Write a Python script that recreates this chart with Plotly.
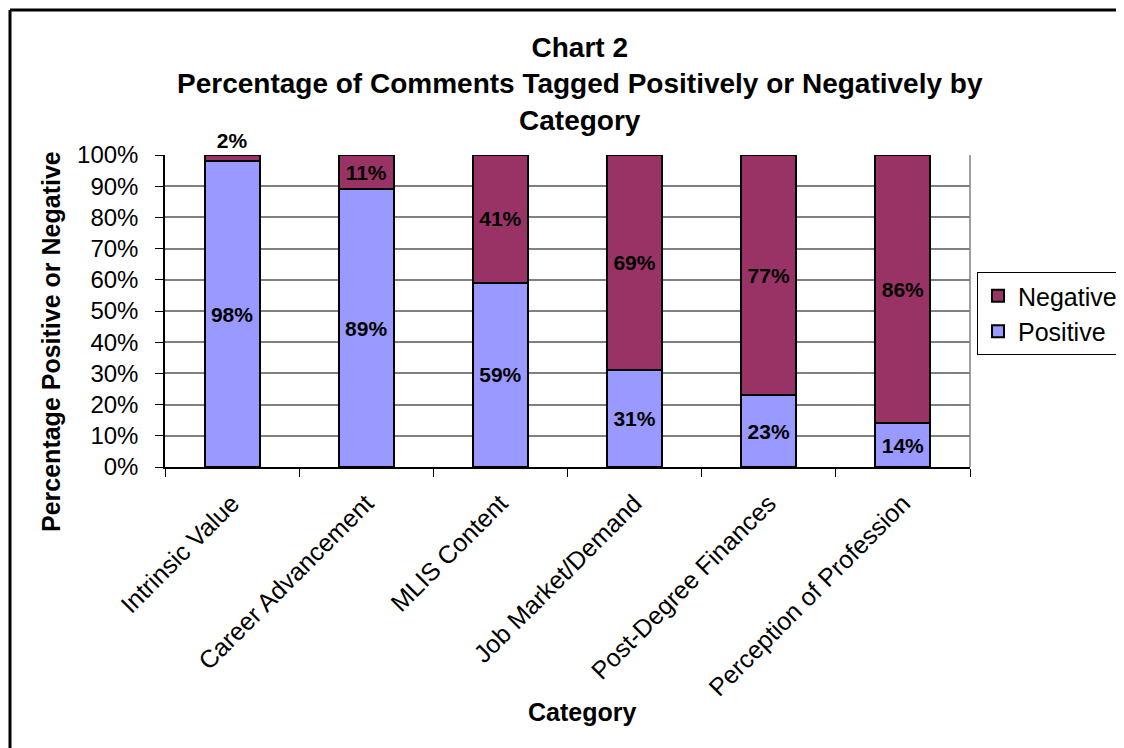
import plotly.graph_objects as go

categories = ["Intrinsic Value", "Career Advancement", "MLIS Content",
              "Job Market/Demand", "Post-Degree Finances", "Perception of Profession"]
positive = [98, 89, 59, 31, 23, 14]
negative = [2, 11, 41, 69, 77, 86]
y_ticks = [0, 10, 20, 30, 40, 50, 60, 70, 80, 90, 100]

FONT = "Liberation Sans, Arial, sans-serif"
OFF = 8  # default page body margin
W, H = 1124 - OFF, 748 - OFF
# plot area in page pixels
PL, PR, PT, PB = 165, 970, 155, 467
L, R, T, B = PL - OFF, PR - OFF, PT - OFF, PB - OFF


def px2x(px):
    return (px - PL) / (PR - PL)


def px2y(py):
    return (PB - py) / (PB - PT)


fig = go.Figure()
fig.add_trace(go.Bar(
    name="Positive", x=categories, y=positive,
    marker=dict(color="#9999FF", line=dict(color="black", width=2)),
    text=[f"{v}%" for v in positive], textposition="inside",
    insidetextanchor="middle", constraintext="none",
    textfont=dict(family=FONT, size=21, color="black", weight="bold"),
    width=0.41, cliponaxis=False,
))
fig.add_trace(go.Bar(
    name="Negative", x=categories, y=negative,
    marker=dict(color="#993366", line=dict(color="black", width=2)),
    text=[f"{v}%" for v in negative],
    textposition=["outside"] + ["inside"] * 5,
    insidetextanchor="middle", constraintext="none",
    textfont=dict(family=FONT, size=21, color="black", weight="bold"),
    width=0.41, cliponaxis=False,
))

fig.update_layout(
    width=W, height=H,
    margin=dict(l=L, r=W - R, t=T, b=H - B, pad=0, autoexpand=False),
    barmode="stack",
    paper_bgcolor="white", plot_bgcolor="white",
    font=dict(family=FONT, color="black"),
    showlegend=True,
    legend=dict(
        x=px2x(977), y=px2y(272), xanchor="left", yanchor="top",
        bordercolor="black", borderwidth=1,
        font=dict(family=FONT, size=25, color="black"),
        itemwidth=30, tracegroupgap=0,
    ),
    xaxis=dict(
        showgrid=False, showline=True, linecolor="black", linewidth=1.5,
        ticks="outside", ticklen=8, tickcolor="black", tickson="boundaries",
        tickangle=-45, tickfont=dict(family=FONT, size=25, color="black"),
        ticklabelstandoff=10,
    ),
    yaxis=dict(
        range=[0, 100], tickvals=y_ticks, ticktext=[f"{v}%" for v in y_ticks],
        showgrid=True, gridcolor="#808080", gridwidth=1.5,
        showline=True, linecolor="black", linewidth=1.5,
        ticks="outside", ticklen=8, tickcolor="black",
        tickfont=dict(family=FONT, size=24, color="black"),
        ticklabelstandoff=12,
        zeroline=False,
    ),
    shapes=[
        dict(type="line", xref="paper", yref="paper", x0=1, x1=1, y0=0, y1=1,
             line=dict(color="#808080", width=1.5), layer="below"),
        dict(type="line", xref="paper", yref="paper", x0=px2x(10), x1=px2x(1130),
             y0=px2y(10), y1=px2y(10), line=dict(color="black", width=3)),
        dict(type="line", xref="paper", yref="paper", x0=px2x(10), x1=px2x(10),
             y0=px2y(10), y1=px2y(760), line=dict(color="black", width=3)),
    ],
    annotations=[
        dict(text="<b>Chart 2<br>Percentage of Comments Tagged Positively or Negatively by<br>Category</b>",
             xref="paper", yref="paper", x=px2x(580), y=px2y(84),
             xanchor="center", yanchor="middle", showarrow=False,
             font=dict(family=FONT, size=28, color="black")),
        dict(text="<b>Percentage Positive or Negative</b>", textangle=-90,
             xref="paper", yref="paper", x=px2x(51), y=px2y(342),
             xanchor="center", yanchor="middle", showarrow=False,
             font=dict(family=FONT, size=25, color="black")),
        dict(text="<b>Category</b>",
             xref="paper", yref="paper", x=px2x(582), y=px2y(712),
             xanchor="center", yanchor="middle", showarrow=False,
             font=dict(family=FONT, size=25, color="black")),
    ],
)

fig.write_html("out.html")
